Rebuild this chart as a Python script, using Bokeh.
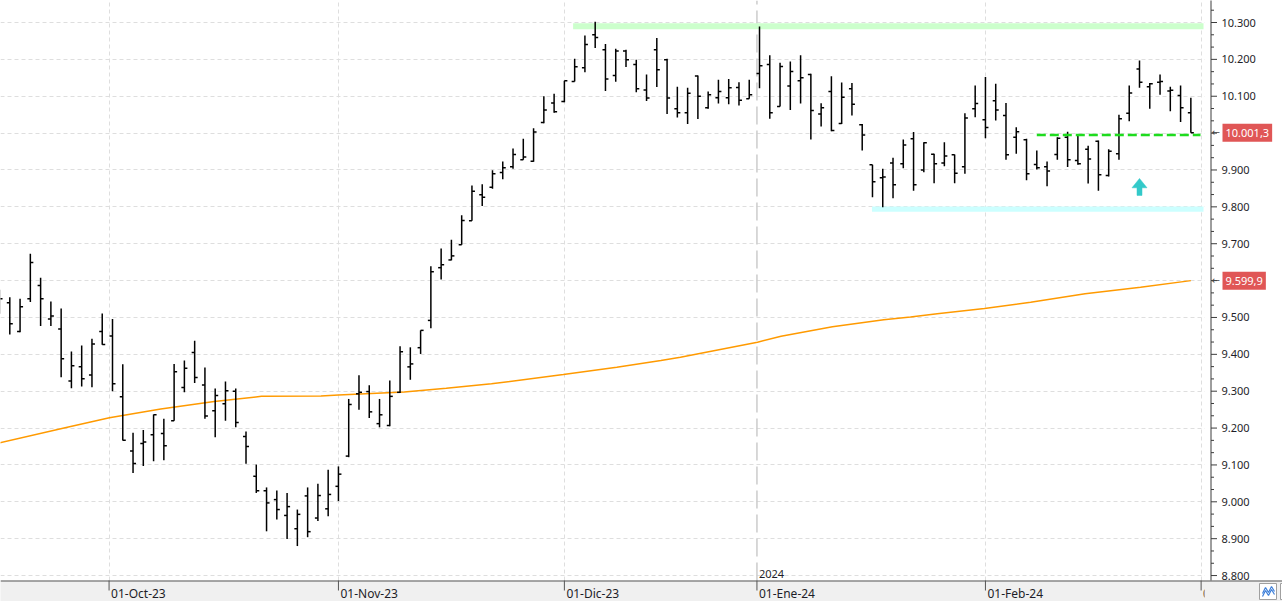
import numpy as np
import pandas as pd
from bokeh.plotting import figure
from bokeh.models import Range1d, FixedTicker, Grid, ColumnDataSource
from bokeh.embed import file_html
from bokeh.resources import INLINE
from bokeh.core.properties import value

# ------------------------------------------------------------------ data
first_day = "2023-09-15"
market_holidays = ["2023-12-25", "2023-12-26", "2024-01-01"]

opens = [9540, 9540, 9462, 9551, 9587, 9496, 9469, 9328, 9366, 9344, 9462,
         9450, 9285, 9138, 9158, 9182, 9185, 9220, 9310, 9405, 9317,
         9247, 9266, 9300, 9177, 9069, 9030, 9006, 8963, 8927, 9016,
         8956, 8981, 9042, 9124, 9293, 9299, 9212, 9207, 9297, 9366,
         9418, 9492, 9635, 9656, 9697, 9762, 9833, 9853, 9893, 9909,
         9928, 9924, 10029, 10082, 10086, 10140, 10177, 10267, 10226, 10156,
         10223, 10186, 10117, 10226, 10199, 10066, 10055, 10155, 10069, 10096,
         10096, 10124, 10093, 10162, 10186, 10072, 10128, 10142, 10159, 10052,
         10113, 10026, 10120, 10023, 9914, 9879, 9919, 9917, 9985, 9900,
         9943, 9919, 9941, 9909, 10066, 10036, 10088, 10048, 9989, 9982,
         9915, 9909, 9942, 9989, 9926, 9956, 9978, 9885, 9944, 10054,
         10174, 10126, 10138, 10114, 10102, 10055]
highs = [9575, 9555, 9551, 9673, 9608, 9543, 9524, 9408, 9424, 9442, 9511,
         9496, 9373, 9187, 9195, 9237, 9225, 9374, 9383, 9437, 9364,
         9307, 9326, 9307, 9191, 9101, 9039, 9031, 9024, 8979, 9039,
         9049, 9087, 9096, 9279, 9343, 9316, 9279, 9329, 9422, 9419,
         9465, 9639, 9687, 9711, 9777, 9858, 9861, 9899, 9923, 9958,
         9985, 10013, 10100, 10107, 10142, 10202, 10265, 10302, 10242, 10229,
         10226, 10199, 10159, 10258, 10202, 10126, 10123, 10156, 10113, 10145,
         10147, 10138, 10145, 10289, 10211, 10191, 10194, 10211, 10161, 10081,
         10154, 10137, 10136, 10025, 9914, 9903, 9933, 9983, 10003, 9975,
         9944, 9975, 9942, 10054, 10129, 10152, 10134, 10082, 10016, 9985,
         9953, 9923, 9989, 10004, 9993, 9966, 9980, 9956, 10050, 10129,
         10197, 10136, 10159, 10126, 10129, 10096]
lows = [9510, 9454, 9460, 9542, 9477, 9477, 9338, 9308, 9313, 9311, 9426,
        9300, 9166, 9078, 9097, 9110, 9113, 9220, 9297, 9322, 9225,
        9175, 9220, 9202, 9103, 9024, 8920, 8952, 8899, 8880, 8904,
        8948, 8961, 9002, 9121, 9250, 9227, 9202, 9205, 9295, 9331,
        9401, 9471, 9603, 9655, 9697, 9762, 9802, 9849, 9875, 9903,
        9928, 9922, 10027, 10055, 10084, 10140, 10165, 10231, 10114, 10139,
        10179, 10111, 10087, 10125, 10052, 10042, 10025, 10038, 10066, 10080,
        10078, 10075, 10093, 10122, 10039, 10072, 10063, 10080, 9983, 10018,
        10005, 10025, 10048, 9953, 9826, 9799, 9823, 9905, 9844, 9894,
        9864, 9910, 9864, 9890, 10043, 9986, 10034, 9928, 9944, 9872,
        9901, 9856, 9928, 9908, 9914, 9863, 9844, 9882, 9928, 10032,
        10123, 10066, 10104, 10059, 10030, 10001.3]
closes = [9551, 9483, 9529, 9649, 9551, 9504, 9388, 9369, 9334, 9428, 9427,
          9320, 9167, 9104, 9162, 9236, 9152, 9353, 9362, 9337, 9233,
          9288, 9301, 9215, 9150, 9030, 8997, 8979, 8987, 8966, 8919,
          9017, 9020, 9075, 9264, 9297, 9244, 9236, 9286, 9407, 9374,
          9465, 9624, 9643, 9667, 9763, 9842, 9826, 9890, 9906, 9942,
          9935, 10003, 10063, 10058, 10142, 10180, 10240, 10259, 10147, 10223,
          10199, 10120, 10095, 10172, 10095, 10055, 10108, 10100, 10104, 10113,
          10123, 10089, 10104, 10183, 10055, 10181, 10167, 10150, 10061, 10069,
          10007, 10097, 10078, 9995, 9868, 9881, 9860, 9968, 9860, 9974,
          9917, 9938, 9891, 10041, 10080, 10015, 10063, 9941, 10004, 9890,
          9906, 9897, 9986, 9928, 9917, 9930, 9887, 9951, 10039, 10109,
          10138, 10134, 10140, 10116, 10069, 10001.3]

# moving average, read at sampled bar positions
ma_pos = [-1, 5.6, 9.7, 14.7, 19.9, 24.5, 30.3, 32, 38.4, 42.5, 46.9,
          53.9, 59.1, 63.4, 65.3, 72.8, 75.1, 80.1, 85.1, 87.7, 90.3,
          94.9, 99.4, 104.7, 110.1, 115]
ma_val = [9160, 9202, 9228, 9252, 9272, 9286, 9287, 9290, 9298, 9308, 9320,
          9345, 9365, 9383, 9392, 9433, 9449, 9475, 9494, 9501, 9510,
          9524, 9541, 9564, 9582, 9599.9]

month_starts = ["2023-10-01", "2023-11-01", "2023-12-01", "2024-01-01",
                "2024-02-01", "2024-03-01"]
month_labels = ["01-Oct-23", "01-Nov-23", "01-Dic-23", "01-Ene-24",
                "01-Feb-24", "01-Mar-24"]
year_start = "2024-01-01"
year_label = "2024"

y_ticks = [8800, 8900, 9000, 9100, 9200, 9300, 9400, 9500, 9600, 9700,
           9800, 9900, 10000, 10100, 10200, 10300]

resistance_level = 10290
resistance_from = "2023-12-04"
support_level = 9794
support_from = "2024-01-17"
trigger_level = 9995
trigger_from = "2024-02-08"
signal_day = "2024-02-22"
signal_low, signal_high = 9831, 9877

# ------------------------------------------------------------------ layout constants
W, H = 1282, 601
PPB = 10.27            # pixels per bar
X0_PX = 9.3            # pixel of first full bar
PLOT_RIGHT_PX = 1204   # end of the price area
AXIS_PX = 1210.5       # price axis line
PLOT_BOTTOM_PX = 580   # top of the date band
VPP = 100 / 36.87      # points per pixel
Y_TOP = 10300 + 22 * VPP


def px_to_idx(px):
    return (px - X0_PX) / PPB


def py_to_val(py):
    return Y_TOP - py * VPP


Y_PLOT_BOT = py_to_val(PLOT_BOTTOM_PX)

cal = pd.bdate_range(first_day, "2024-03-15")
cal = cal[~cal.isin(pd.to_datetime(market_holidays))]
x = np.arange(len(opens)) - 1.0


def date_pos(d):
    d = pd.Timestamp(d)
    k = int(np.searchsorted(cal.values, d.to_datetime64()))
    if k < len(cal) and cal[k] == d:
        return k - 1.0
    prev_, next_ = cal[k - 1], cal[k]
    return (k - 2) + (d - prev_) / (next_ - prev_)


month_pos = [date_pos(d) for d in month_starts]
year_pos = date_pos(year_start)
grid_pos = [q for q, d in zip(month_pos, month_starts) if d != year_start]


def fmt_es(v, dec):
    s = f"{v:,.{dec}f}"
    return s.replace(",", "X").replace(".", ",").replace("X", ".")


FONT = "Noto Sans"
TXT = "#1e1e28"
GRID = "#dedede"
BAND = "#f0f0f0"

p = figure(frame_width=W, frame_height=H,
           x_range=Range1d(px_to_idx(0), px_to_idx(W)),
           y_range=Range1d(py_to_val(H), Y_TOP),
           x_axis_location=None, y_axis_location=None,
           output_backend="svg", toolbar_location=None, min_border=0,
           background_fill_color="white", border_fill_color="white",
           outline_line_color=None)
p.center = []   # drop default grids

# grids
p.add_layout(Grid(dimension=1, ticker=FixedTicker(ticks=y_ticks),
                  grid_line_color=GRID, grid_line_dash="4 3"))
p.add_layout(Grid(dimension=0, ticker=FixedTicker(ticks=grid_pos),
                  grid_line_color=GRID, grid_line_dash="4 3"))
p.segment(x0=[year_pos], y0=[Y_PLOT_BOT], x1=[year_pos], y1=[Y_TOP],
          line_color="#cccccc", line_width=1.5, line_dash="18 6")

# resistance / support bands
p.quad(left=[date_pos(resistance_from) - 0.15], right=[px_to_idx(PLOT_RIGHT_PX - 1)],
       bottom=[resistance_level - 8], top=[resistance_level + 8],
       fill_color="#ccffcc", line_color=None)
p.quad(left=[date_pos(support_from) - 0.05], right=[px_to_idx(PLOT_RIGHT_PX - 1)],
       bottom=[support_level - 7], top=[support_level + 7],
       fill_color="#ccffff", line_color=None)

# moving average
p.line(ma_pos, ma_val, line_color="#ff9a00", line_width=1.5)

# OHLC bars
TICK = 3 / PPB
src = ColumnDataSource(dict(x=x, xl=x - TICK, xr=x + TICK,
                            o=opens, h=highs, l=lows, c=closes))
for kw in (dict(x0="x", y0="l", x1="x", y1="h"),
           dict(x0="xl", y0="o", x1="x", y1="o"),
           dict(x0="x", y0="c", x1="xr", y1="c")):
    p.segment(source=src, line_color="black", line_width=1.5, **kw)

# trigger line
p.line([date_pos(trigger_from), px_to_idx(1200)], [trigger_level, trigger_level],
       line_color="#1edc1e", line_width=2.6, line_dash="9 4")

# signal arrow
ax = date_pos(signal_day)
hw, sw = 7.5 / PPB, 2.5 / PPB
head_base = signal_high - (signal_high - signal_low) * 0.55
p.patch([ax, ax + hw, ax + sw, ax + sw, ax - sw, ax - sw, ax - hw],
        [signal_high, head_base, head_base, signal_low, signal_low, head_base, head_base],
        fill_color="#33c9c9", line_color="#33c9c9", line_width=0.5)

# year marker
p.text(x=[year_pos], y=[Y_PLOT_BOT], text=[year_label], x_offset=2, y_offset=-3,
       text_baseline="bottom", text_align="left",
       text_font=value(FONT), text_font_size="11px", text_color=TXT)

# ---------------- price axis area (right)
p.quad(left=[px_to_idx(PLOT_RIGHT_PX)], right=[px_to_idx(W + 5)],
       bottom=[Y_PLOT_BOT], top=[Y_TOP + 10], fill_color="white", line_color=None)

# ---------------- date band (bottom)
p.quad(left=[px_to_idx(-5)], right=[px_to_idx(W + 5)],
       bottom=[py_to_val(H + 5)], top=[Y_PLOT_BOT], fill_color=BAND, line_color=None)
nm = len(month_pos)
p.segment(x0=month_pos, y0=[Y_PLOT_BOT] * nm, x1=month_pos,
          y1=[py_to_val(PLOT_BOTTOM_PX + 10)] * nm, line_color="#555555", line_width=1)
p.text(x=month_pos, y=[py_to_val(593)] * nm, text=month_labels, x_offset=2,
       text_baseline="middle", text_align="left",
       text_font=value(FONT), text_font_size="12px", text_color=TXT)
p.quad(left=[px_to_idx(PLOT_RIGHT_PX)], right=[px_to_idx(W + 5)],
       bottom=[py_to_val(H + 5)], top=[py_to_val(PLOT_BOTTOM_PX + 1)],
       fill_color=BAND, line_color=None)
# small toolbar icon
p.quad(left=[px_to_idx(1259), px_to_idx(1280)], right=[px_to_idx(1276), px_to_idx(1292)],
       bottom=[py_to_val(599)] * 2, top=[py_to_val(583)] * 2,
       fill_color="white", line_color="#a0a0a0")
icon_x = [px_to_idx(v) for v in (1262, 1265, 1268, 1271, 1274)]
p.line(icon_x, [py_to_val(v) for v in (593, 587, 592, 586, 591)],
       line_color="#3d7fd9", line_width=1.2)
p.line(icon_x, [py_to_val(v) for v in (596, 590, 595, 589, 594)],
       line_color="#3d7fd9", line_width=1.2)
p.segment(x0=[px_to_idx(0)], y0=[py_to_val(PLOT_BOTTOM_PX + 0.5)],
          x1=[px_to_idx(W)], y1=[py_to_val(PLOT_BOTTOM_PX + 0.5)],
          line_color="#555555", line_width=1)

# axis line, ticks, labels
AX = px_to_idx(AXIS_PX)
p.segment(x0=[AX], y0=[Y_PLOT_BOT], x1=[AX], y1=[Y_TOP + 10],
          line_color="#3c3c3c", line_width=1)
minor = [t + k * 100 / 3 for t in range(8700, 10400, 100) for k in (1, 2)]
minor = [m for m in minor if Y_PLOT_BOT < m < Y_TOP]
p.segment(x0=[AX] * len(y_ticks), y0=y_ticks, x1=[px_to_idx(AXIS_PX + 6)] * len(y_ticks),
          y1=y_ticks, line_color="#3c3c3c", line_width=1)
p.segment(x0=[AX] * len(minor), y0=minor, x1=[px_to_idx(AXIS_PX + 3)] * len(minor),
          y1=minor, line_color="#3c3c3c", line_width=1)

tags = [closes[-1], ma_val[-1]]
shown = [t for t in y_ticks if all(abs(t - g) > 25 for g in tags)]
p.text(x=[px_to_idx(1221)] * len(shown), y=shown, text=[fmt_es(t, 0) for t in shown],
       text_baseline="middle", text_align="left",
       text_font=value(FONT), text_font_size="11px", text_color=TXT)

# last-value tags
p.text(x=[px_to_idx(1222)] * len(tags), y=tags, text=[fmt_es(t, 1) for t in tags],
       text_baseline="middle", text_align="left",
       text_font=value(FONT), text_font_size="11px", text_color="white",
       background_fill_color="#e05656", padding=(3, 5))
p.text(x=[px_to_idx(1211)] * len(tags), y=tags, text=["←"] * len(tags),
       text_baseline="middle", text_align="left",
       text_font=value("DejaVu Sans"), text_font_size="10px", text_color="#444444")

open("out.html", "w").write(file_html(p, INLINE))
